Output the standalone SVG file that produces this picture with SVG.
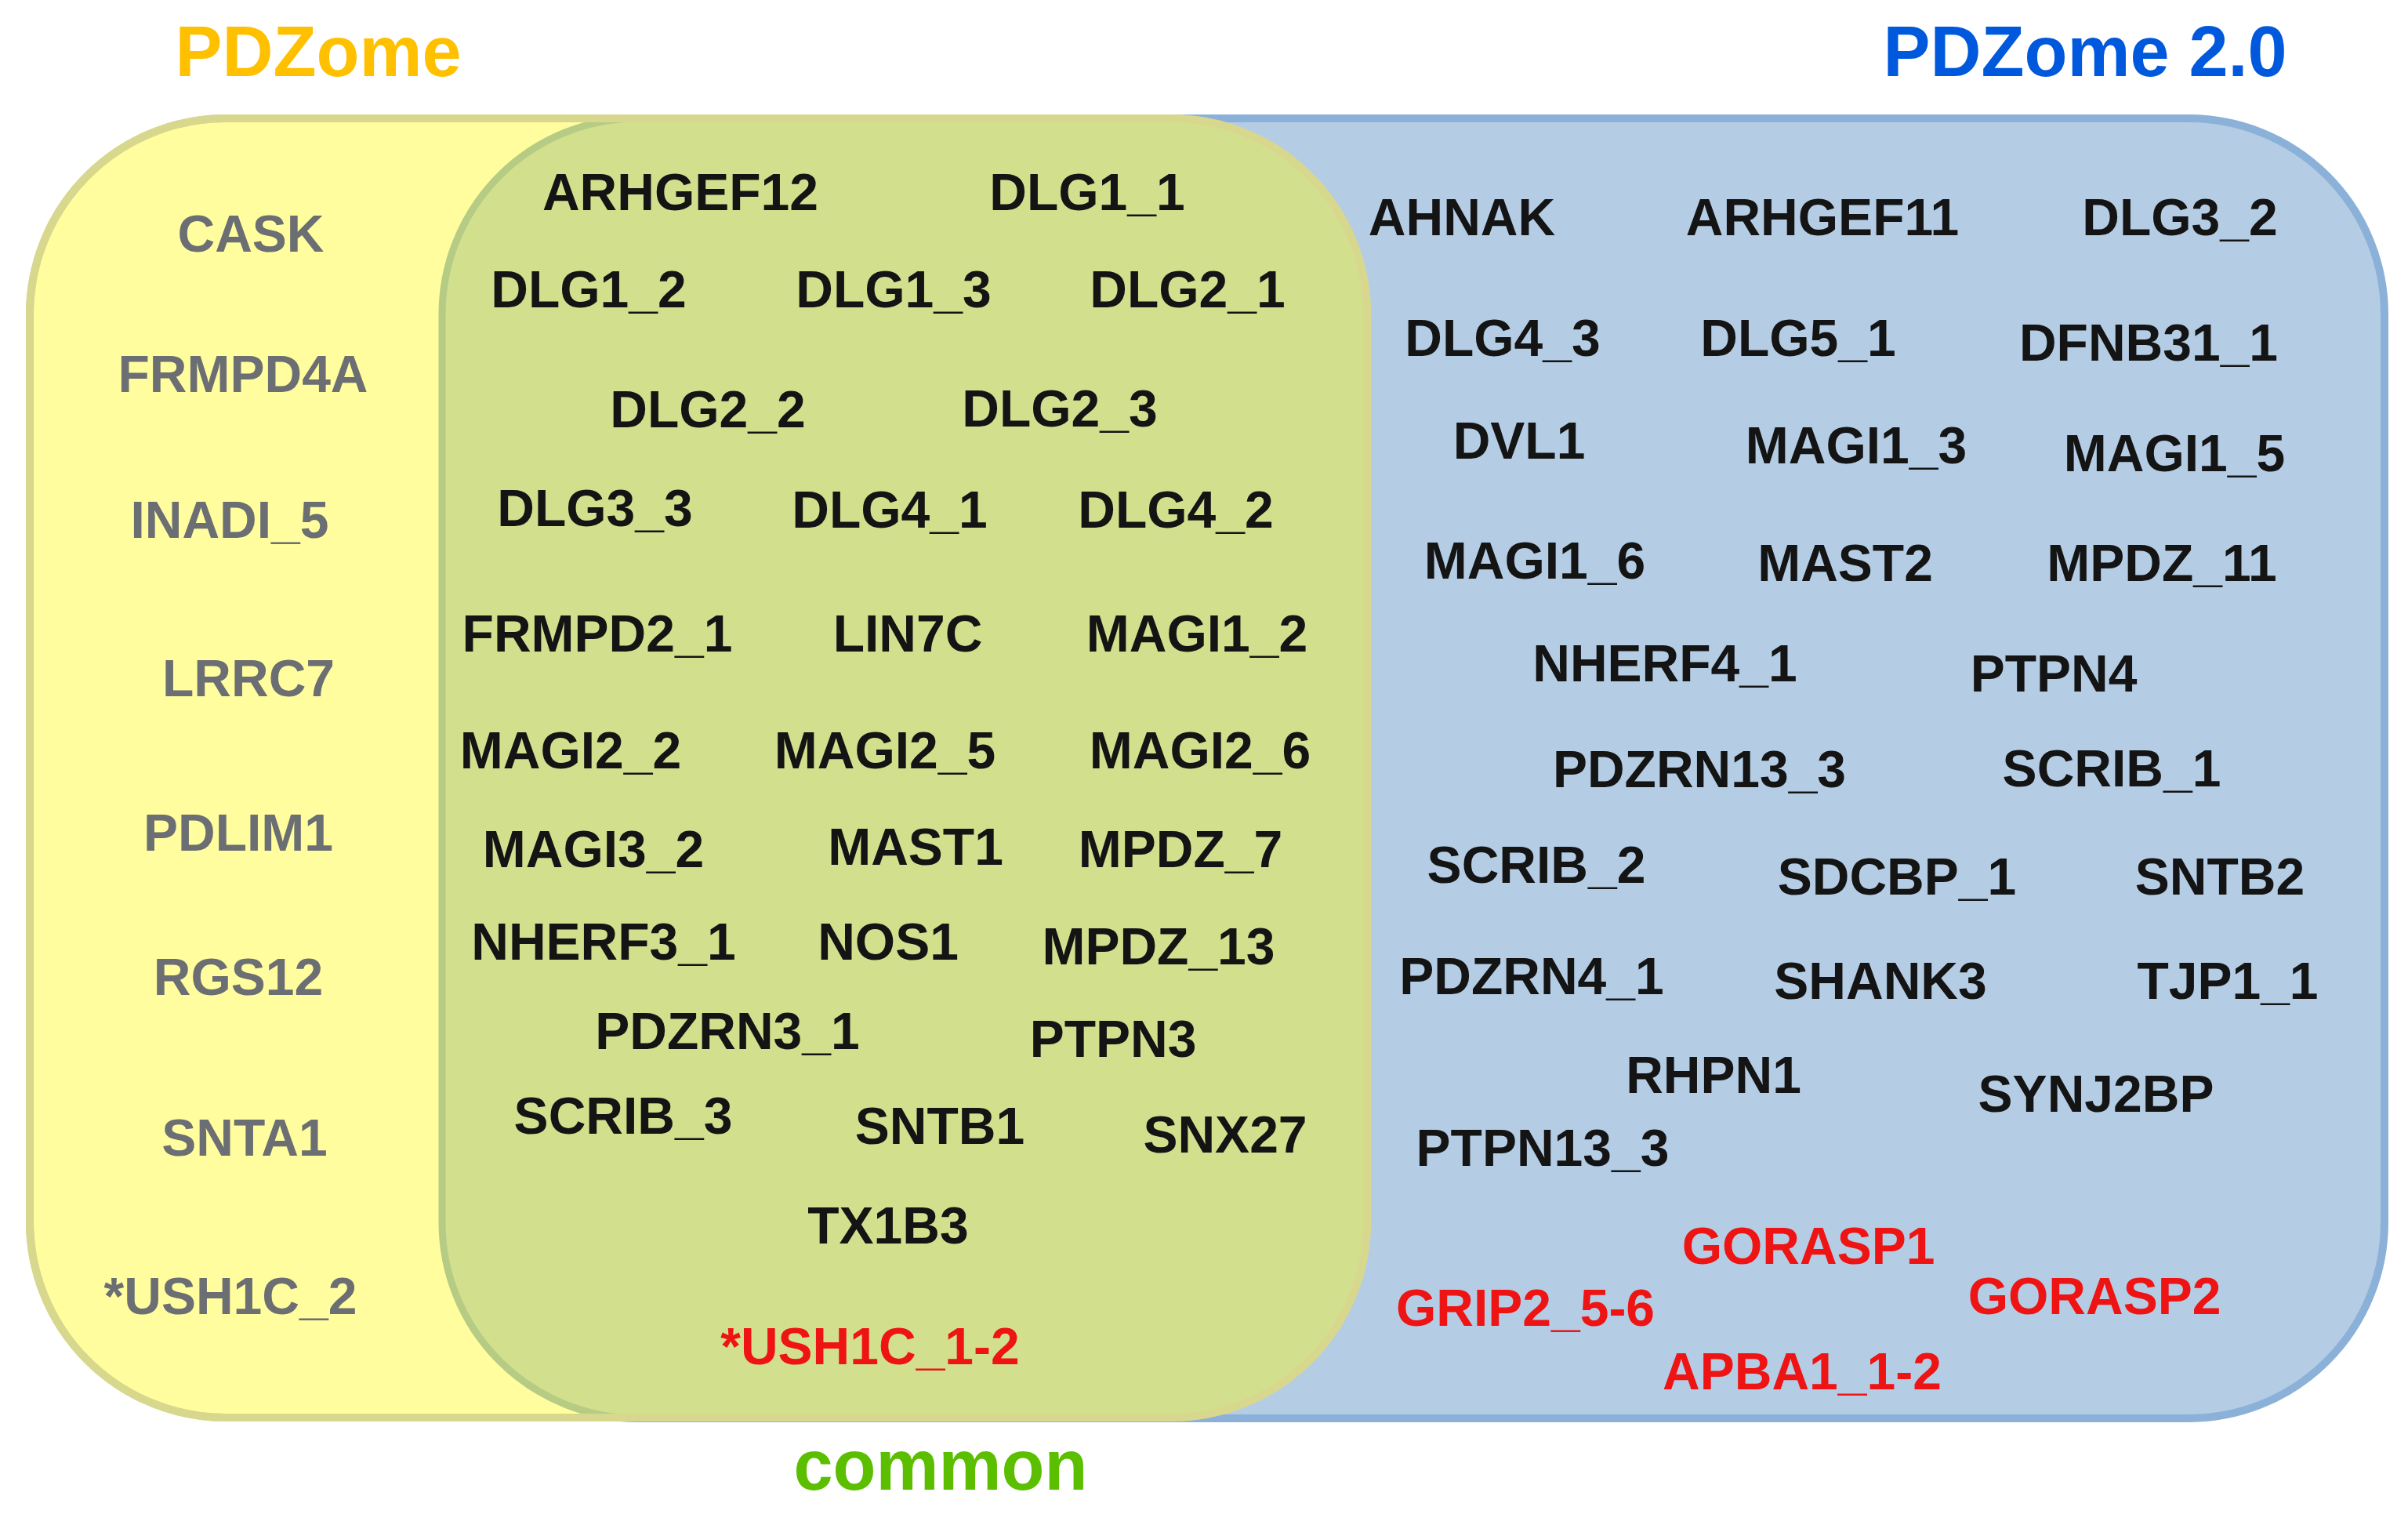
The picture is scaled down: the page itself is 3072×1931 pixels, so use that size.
<svg xmlns="http://www.w3.org/2000/svg" width="3072" height="1931" viewBox="0 0 3072 1931">
<style>
  text { font-family: "Liberation Sans", Arial, sans-serif; font-weight: bold; text-anchor: middle; }
  .lbl { font-size: 66px; }
  .g { fill: #6B6E72; }
  .k { fill: #141414; }
  .r { fill: #EE1414; }
  .title { font-size: 90px; }
</style>
<defs>
  <clipPath id="clipY">
    <rect x="38" y="151" width="1706" height="1657" rx="250" ry="250"/>
  </clipPath>
</defs>
<rect x="0" y="0" width="3072" height="1931" fill="#FFFFFF"/>

<g id="set-pdzome2">
  <rect x="564" y="151" width="2478" height="1658" rx="250" ry="250" fill="#B4CDE5" stroke="#8CB1D8" stroke-width="10"/>
</g>
<g id="set-pdzome">
  <rect x="38" y="151" width="1706" height="1657" rx="250" ry="250" fill="#FFFD9E" stroke="#D6D68C" stroke-width="10"/>
</g>
<g id="set-common">
  <rect x="564" y="151" width="2478" height="1658" rx="250" ry="250" fill="#D2E08E" stroke="#B6CB84" stroke-width="9" clip-path="url(#clipY)"/>
  <rect x="38" y="151" width="1706" height="1657" rx="250" ry="250" fill="none" stroke="#D8D78E" stroke-width="10"/>
</g>

<g id="titles">
  <text class="title" x="406" y="97" fill="#FFC000">PDZome</text>
  <text class="title" x="2660" y="97" fill="#0058DC">PDZome 2.0</text>
  <text class="title" x="1200" y="1900" fill="#5BBF00">common</text>
</g>

<g id="labels-pdzome" class="lbl g">
  <text x="320" y="321">CASK</text>
  <text x="310" y="500">FRMPD4A</text>
  <text x="293" y="686">INADI_5</text>
  <text x="317" y="888">LRRC7</text>
  <text x="304" y="1085">PDLIM1</text>
  <text x="304" y="1269">RGS12</text>
  <text x="312" y="1474">SNTA1</text>
  <text x="294" y="1676">*USH1C_2</text>
</g>

<g id="labels-common" class="lbl k">
  <text x="868" y="268">ARHGEF12</text>
  <text x="1387" y="268">DLG1_1</text>
  <text x="751" y="392">DLG1_2</text>
  <text x="1140" y="392">DLG1_3</text>
  <text x="1515" y="392">DLG2_1</text>
  <text x="903" y="545">DLG2_2</text>
  <text x="1352" y="544">DLG2_3</text>
  <text x="759" y="671">DLG3_3</text>
  <text x="1135" y="673">DLG4_1</text>
  <text x="1500" y="673">DLG4_2</text>
  <text x="762" y="831">FRMPD2_1</text>
  <text x="1158" y="831">LIN7C</text>
  <text x="1527" y="831">MAGI1_2</text>
  <text x="728" y="980">MAGI2_2</text>
  <text x="1129" y="980">MAGI2_5</text>
  <text x="1531" y="980">MAGI2_6</text>
  <text x="757" y="1106">MAGI3_2</text>
  <text x="1168" y="1103">MAST1</text>
  <text x="1506" y="1106">MPDZ_7</text>
  <text x="770" y="1224">NHERF3_1</text>
  <text x="1133" y="1224">NOS1</text>
  <text x="1478" y="1230">MPDZ_13</text>
  <text x="928" y="1338">PDZRN3_1</text>
  <text x="1420" y="1348">PTPN3</text>
  <text x="795" y="1446">SCRIB_3</text>
  <text x="1199" y="1459">SNTB1</text>
  <text x="1563" y="1470">SNX27</text>
  <text x="1133" y="1586">TX1B3</text>
  <text class="r" x="1110" y="1740">*USH1C_1-2</text>
</g>

<g id="labels-pdzome2" class="lbl k">
  <text x="1865" y="300">AHNAK</text>
  <text x="2325" y="300">ARHGEF11</text>
  <text x="2781" y="300">DLG3_2</text>
  <text x="1917" y="454">DLG4_3</text>
  <text x="2294" y="454">DLG5_1</text>
  <text x="2741" y="460">DFNB31_1</text>
  <text x="1938" y="585">DVL1</text>
  <text x="2368" y="591">MAGI1_3</text>
  <text x="2774" y="601">MAGI1_5</text>
  <text x="1958" y="738">MAGI1_6</text>
  <text x="2354" y="741">MAST2</text>
  <text x="2758" y="741">MPDZ_11</text>
  <text x="2124" y="869">NHERF4_1</text>
  <text x="2620" y="882">PTPN4</text>
  <text x="2168" y="1004">PDZRN13_3</text>
  <text x="2694" y="1003">SCRIB_1</text>
  <text x="1960" y="1126">SCRIB_2</text>
  <text x="2420" y="1141">SDCBP_1</text>
  <text x="2832" y="1141">SNTB2</text>
  <text x="1954" y="1268">PDZRN4_1</text>
  <text x="2399" y="1274">SHANK3</text>
  <text x="2842" y="1274">TJP1_1</text>
  <text x="2186" y="1394">RHPN1</text>
  <text x="2674" y="1418">SYNJ2BP</text>
  <text x="1968" y="1487">PTPN13_3</text>
  <text class="r" x="2307" y="1612">GORASP1</text>
  <text class="r" x="1946" y="1691">GRIP2_5-6</text>
  <text class="r" x="2672" y="1676">GORASP2</text>
  <text class="r" x="2299" y="1772">APBA1_1-2</text>
</g>
</svg>
